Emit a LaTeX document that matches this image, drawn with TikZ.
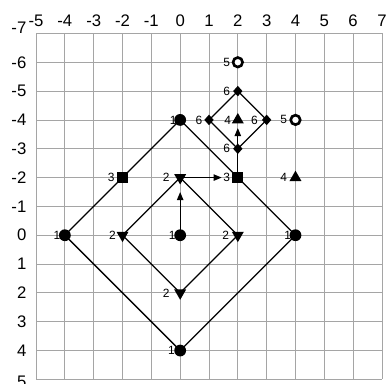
\documentclass[tikz,border=0pt]{standalone}
\usepackage{fontspec}
\setmainfont{Liberation Sans}
\usetikzlibrary{shapes.geometric,arrows.meta,backgrounds}
\newcommand\mk[5]{\node[#2] (#1) at (#3) {}; \node[lbl] (#1l) at ([xshift=-#5]#1.center) {#4};}
\begin{document}
\begin{tikzpicture}[yscale=-1,
  dot/.style={circle,fill,inner sep=0pt,minimum size=0.41cm},
  ring/.style={circle,draw,line width=2.6pt,fill=white,inner sep=0pt,minimum size=0.33cm},
  sq/.style={rectangle,fill,inner sep=0pt,minimum size=0.37cm},
  dia/.style={diamond,fill,inner sep=0pt,minimum width=0.33cm,minimum height=0.37cm},
  tup/.style={regular polygon,regular polygon sides=3,fill,inner sep=0pt,minimum size=0.48cm},
  tdn/.style={tup,shape border rotate=180},
  lbl/.style={font=\fontsize{11.8}{12}\selectfont,inner sep=0pt,anchor=east},
  ax/.style={font=\fontsize{16.5}{17}\selectfont,inner sep=0pt},
  gridline/.style={draw={rgb,255:red,165;green,165;blue,165},line width=0.8pt},
  link/.style={line width=1.25pt},
  arr/.style={link,-{Triangle[length=0.28cm,width=0.22cm]}},
]
\useasboundingbox (-6.25,-8.16) rectangle (7.14,5.14);
% axis labels
\foreach \x in {-5,...,7} \node[ax] (tx\x) at (\x,-7.434) {\x};
\foreach \y in {-6,...,4} \node[ax,anchor=east] (ly\y) at (-5.33,\y) {\y};
\node[ax,anchor=east] (lym7) at (-5.33,-7.19) {-7};
\node[ax,anchor=east] (ly5) at (-5.33,5.07) {5};
% markers
\mk{r1}{ring}{2,-6}{5}{7.5pt}
\mk{d1}{dia}{2,-5}{6}{7.5pt}
\mk{c1}{dot}{0,-4}{1}{3.5pt}
\mk{d2}{dia}{1,-4}{6}{6.5pt}
\mk{t1}{tup}{2,-4}{4}{6.5pt}
\mk{d3}{dia}{3,-4}{6}{8.5pt}
\mk{r2}{ring}{4,-4}{5}{8.2pt}
\mk{d4}{dia}{2,-3}{6}{7.5pt}
\mk{s1}{sq}{-2,-2}{3}{7.8pt}
\mk{v1}{tdn}{0,-2}{2}{10.2pt}
\mk{s2}{sq}{2,-2}{3}{7.5pt}
\mk{t2}{tup}{4,-2}{4}{8.2pt}
\mk{c2}{dot}{-4,0}{1}{4.4pt}
\mk{v2}{tdn}{-2,0}{2}{6.5pt}
\mk{c3}{dot}{0,0}{1}{4.5pt}
\mk{v3}{tdn}{2,0}{2}{8.5pt}
\mk{c4}{dot}{4,0}{1}{4.2pt}
\mk{v4}{tdn}{0,2}{2}{10.2pt}
\mk{c5}{dot}{0,4}{1}{5.2pt}
\begin{pgfonlayer}{background}
  \draw[gridline] (-5,-7) grid (7,5);
  \draw[link] (c1.center) -- (c4.center) -- (c5.center) -- (c2.center) -- cycle;
  \draw[link] (v1.center) -- (v3.center) -- (v4.center) -- (v2.center) -- cycle;
  \draw[link] (d1.center) -- (d3.center) -- (d4.center) -- (d2.center) -- cycle;
  \draw[arr,shorten >=0.5cm] (c3.center) -- (v1.center);
  \draw[arr,shorten >=0.56cm] (v1.center) -- (s2.center);
  \draw[arr,shorten >=0.28cm] (s2.center) -- (t1.center);
\end{pgfonlayer}
\end{tikzpicture}
\end{document}
